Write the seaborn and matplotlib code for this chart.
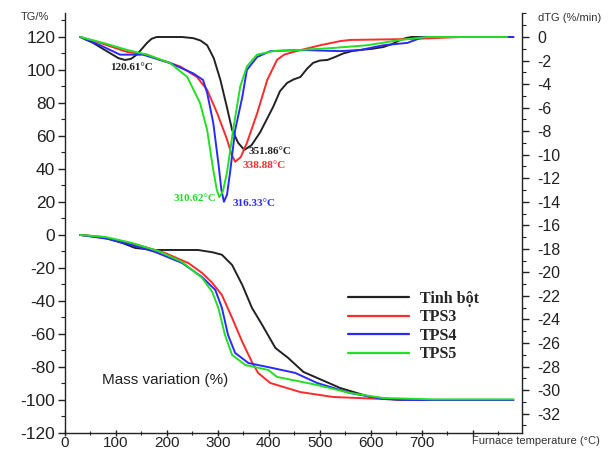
import matplotlib
matplotlib.use("Agg")
import matplotlib.pyplot as plt
from matplotlib.ticker import MultipleLocator
from matplotlib.lines import Line2D
import seaborn as sns
import pandas as pd

sns.set_style("ticks")
plt.rcParams['font.family'] = ['Liberation Sans', 'DejaVu Sans']
plt.rcParams['axes.unicode_minus'] = False

samples = ["Tinh bột", "TPS3", "TPS4", "TPS5"]
colors = ["#222222", "#ff2a2a", "#2a2aff", "#22e022"]

# DTG curves (right axis, %/min)
dtg_T = {
    "Tinh bột": [30, 55, 88, 105, 118, 130, 141, 151, 161, 170, 180, 230, 252, 266, 279, 292, 305, 318, 328, 340, 352, 366, 383, 396, 409, 422, 436, 449, 462, 475, 487, 500, 515, 530, 546, 563, 580, 603, 625, 642, 658, 670, 680, 880],
    "TPS3": [30, 69, 122, 161, 187, 226, 259, 279, 299, 318, 327, 334, 345, 357, 377, 397, 416, 430, 448, 501, 540, 560, 680, 776, 880],
    "TPS4": [30, 69, 108, 153, 206, 252, 271, 279, 291, 301, 307, 312, 318, 324, 334, 348, 357, 377, 403, 462, 540, 580, 625, 672, 703, 880],
    "TPS5": [30, 75, 122, 161, 206, 240, 265, 279, 291, 298, 303, 310, 318, 330, 344, 357, 377, 409, 462, 527, 593, 658, 711, 868],
}
dtg_V = {
    "Tinh bột": [0, -0.5, -1.36, -1.8, -1.95, -1.85, -1.5, -1.0, -0.5, -0.15, 0, 0, -0.1, -0.3, -0.7, -1.8, -3.65, -6.0, -7.9, -9.0, -9.6, -9.2, -8.1, -7.0, -5.9, -4.6, -3.9, -3.6, -3.4, -2.7, -2.2, -2.0, -1.95, -1.7, -1.4, -1.2, -1.1, -1.0, -0.85, -0.6, -0.25, -0.08, 0, 0],
    "TPS3": [0, -0.5, -1.27, -1.5, -1.95, -2.5, -3.4, -4.5, -6.5, -8.7, -10.0, -10.6, -10.2, -9.0, -6.5, -3.65, -1.95, -1.5, -1.27, -0.7, -0.35, -0.25, -0.17, 0, 0],
    "TPS4": [0, -0.7, -1.5, -1.5, -2.2, -3.1, -3.65, -4.75, -7.3, -10.7, -13.0, -14.0, -13.4, -11.5, -7.9, -5.1, -2.8, -1.7, -1.2, -1.1, -1.2, -1.1, -0.7, -0.5, 0, 0],
    "TPS5": [0, -0.5, -1.1, -1.5, -2.2, -3.4, -5.6, -7.9, -11.3, -13.0, -13.6, -13.1, -11.5, -7.9, -4.2, -2.5, -1.5, -1.2, -1.1, -0.93, -0.7, -0.25, 0, 0],
}

# TG curves (left axis, mass variation %)
tg_T = {
    "Tinh bột": [30, 72, 112, 138, 177, 261, 290, 308, 328, 348, 367, 387, 413, 438, 468, 540, 599, 658, 880],
    "TPS3": [30, 79, 143, 196, 242, 269, 289, 308, 328, 348, 367, 379, 403, 462, 527, 625, 678, 880],
    "TPS4": [30, 85, 131, 177, 230, 269, 295, 308, 320, 334, 360, 407, 452, 495, 560, 625, 678, 880],
    "TPS5": [30, 79, 131, 183, 230, 269, 289, 301, 314, 328, 354, 399, 416, 495, 560, 625, 723, 880],
}
tg_V = {
    "Tinh bột": [0, -1.2, -4.8, -7.9, -9.1, -9.1, -10.5, -12, -18.2, -30.3, -44.2, -54.5, -68.5, -74.5, -83, -92.7, -98.2, -100, -100],
    "TPS3": [0, -1.8, -6.1, -10.9, -17, -23, -29, -36.4, -50.3, -64.8, -77, -83.6, -89.7, -95.2, -98.2, -99.4, -100, -100],
    "TPS4": [0, -2.4, -6.1, -10.3, -17, -25.5, -33.3, -44.2, -60.6, -71.5, -77.6, -80.6, -83.6, -89.7, -95.8, -99.4, -100, -100],
    "TPS5": [0, -1.2, -4.8, -9.7, -16.4, -26, -34.5, -44.2, -60.6, -72.7, -78.8, -81.8, -86, -90.9, -95.8, -98.8, -99.6, -99.6],
}

def long_df(T, V):
    rows = []
    for s in samples:
        for i, (t, v) in enumerate(zip(T[s], V[s])):
            rows.append({"sample": s, "T": t, "V": v, "i": i})
    return pd.DataFrame(rows)

df_tg = long_df(tg_T, tg_V)
df_dtg = long_df(dtg_T, dtg_V)
palette = dict(zip(samples, colors))

fig = plt.figure(figsize=(6.09, 4.51), dpi=100)
ax = fig.add_axes([65/609, 1-433/451, (522-65)/609, (433-13)/451])
ax2 = ax.twinx()

sns.lineplot(data=df_tg, x="T", y="V", hue="sample", palette=palette, ax=ax,
             legend=False, sort=False, estimator=None, units="sample", lw=1.4)
sns.lineplot(data=df_dtg, x="T", y="V", hue="sample", palette=palette, ax=ax2,
             legend=False, sort=False, estimator=None, units="sample", lw=1.4)

ax.set_xlim(0, 897)
ax.set_ylim(-120, 134.5)
ax2.set_ylim(-33.65, 2.04)

ax.set_xticks([0, 100, 200, 300, 400, 500, 600, 700, 800])
ax.set_xticklabels(["0", "100", "200", "300", "400", "500", "600", "700", ""])
ax.xaxis.set_minor_locator(MultipleLocator(50))
ax.set_yticks(list(range(-120, 121, 20)))
ax.yaxis.set_minor_locator(MultipleLocator(10))
ax2.set_yticks(list(range(-32, 1, 2)))
ax2.yaxis.set_minor_locator(MultipleLocator(1))

for a in (ax, ax2):
    a.set_xlabel("")
    a.set_ylabel("")
    a.spines["top"].set_visible(False)
    for sp in a.spines.values():
        sp.set_color("#222222")
        sp.set_linewidth(1.0)
    a.tick_params(which="major", length=5, width=1, color="#222222", labelcolor="#222222")
    a.tick_params(which="minor", length=3, width=0.8, color="#222222")
ax.spines["right"].set_visible(False)
ax2.spines["left"].set_visible(False)
ax2.spines["bottom"].set_visible(False)
ax.tick_params(axis="y", labelsize=12.5, pad=2)
ax.tick_params(axis="x", which="major", labelsize=11, pad=0.5, length=4, direction="inout")
ax.tick_params(axis="x", which="minor", length=3, direction="inout")
ax2.tick_params(axis="y", labelsize=11.5, pad=6)

# axis titles
fig.text(35/609, 1-17/451, "TG/%", fontsize=8, color="#333333", ha="center", va="center")
fig.text(570/609, 1-18/451, "dTG (%/min)", fontsize=8, color="#333333", ha="center", va="center")
fig.text(536/609, 1-441/451, "Furnace temperature (°C)", fontsize=8, color="#333333", ha="center", va="center")
ax.text(196, -88, "Mass variation (%)", fontsize=11, color="#222222", ha="center", va="center")

# peak annotations
ann_font = dict(family="Liberation Serif", fontweight="bold", fontsize=8)
ax2.text(130, -2.55, "120.61°C", color="#222222", ha="center", va="center", **ann_font)
ax2.text(361, -9.77, "351.86°C", color="#222222", ha="left", va="center", **ann_font)
ax2.text(348, -10.96, "338.88°C", color="#ff2a2a", ha="left", va="center", **ann_font)
ax2.text(297, -13.76, "310.62°C", color="#22dd22", ha="right", va="center", **ann_font)
ax2.text(328, -14.19, "316.33°C", color="#2a2aff", ha="left", va="center", **ann_font)

handles = [Line2D([0], [0], color=c, lw=1.6) for c in colors]
leg = ax.legend(handles, samples, loc="upper left", bbox_to_anchor=(348/609, 1-291/451),
                bbox_transform=fig.transFigure, frameon=False, handlelength=3.8,
                handletextpad=0.7, labelspacing=0.15, borderpad=0, borderaxespad=0,
                prop=dict(family="Liberation Serif", weight="bold", size=11.5))

fig.savefig("out.png", dpi=100)
